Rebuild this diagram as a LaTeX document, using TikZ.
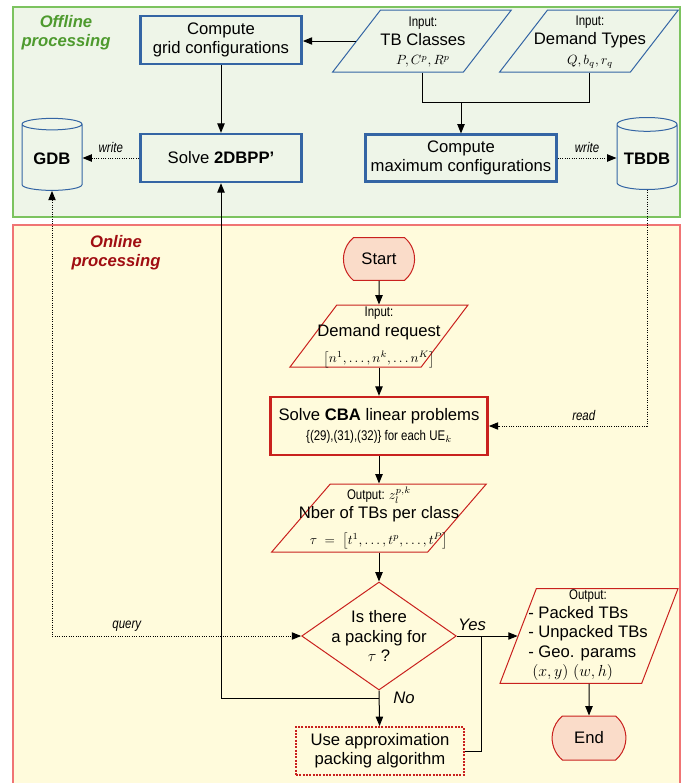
\documentclass[tikz,border=0pt]{standalone}
\usepackage{amsmath}
\usepackage{fontspec}
\setmainfont{Liberation Sans}
\newfontfamily\narrow[FakeStretch=0.82]{Liberation Sans}
\usetikzlibrary{arrows.meta, shapes.geometric, shapes.misc, positioning}

\definecolor{offbg}{HTML}{EEF5E8}
\definecolor{offline}{HTML}{7CC35F}
\definecolor{offtext}{HTML}{4E9A2E}
\definecolor{onbg}{HTML}{FFFBDC}
\definecolor{online}{HTML}{F07474}
\definecolor{ontext}{HTML}{A00D12}
\definecolor{boxblue}{HTML}{3465A4}
\definecolor{boxred}{HTML}{C9211E}
\definecolor{termfill}{HTML}{FADCC9}

\newcommand{\mainsize}{\fontsize{12.5}{14.5}\selectfont}
\newcommand{\smallnarrow}{\narrow\fontsize{10.5}{12.5}\selectfont}
\newcommand{\mathsize}{\fontsize{10}{13}\selectfont}

\tikzset{
  procblue/.style = {draw=boxblue, line width=1.8pt, fill=offbg, align=center},
  procred/.style = {draw=boxred, line width=1.8pt, fill=onbg, align=center},
  inblue/.style = {trapezium, trapezium left angle=60, trapezium right angle=120,
    trapezium stretches=true, draw=boxblue, fill=offbg, inner sep=1pt},
  inred/.style = {trapezium, trapezium stretches=true, draw=boxred, fill=onbg,
    inner sep=1pt},
  intext/.style = {align=center, inner sep=0pt},
  dbase/.style = {cylinder, shape border rotate=90, aspect=0.25, draw=boxblue,
    fill=offbg, minimum width=45pt, minimum height=54pt, font=\mainsize\bfseries},
  term/.style = {rounded rectangle, rounded rectangle arc length=100, draw=boxred,
    fill=termfill},
  decision/.style = {diamond, draw=boxred, fill=onbg, inner sep=1pt},
  area/.style = {font=\mainsize\bfseries\itshape, align=center},
  flow/.style = {->},
  dots/.style = {densely dotted}
}

\begin{document}
\begin{tikzpicture}[x=0.75pt, y=-0.75pt, >={Triangle[length=7pt, width=5.5pt]},
  line width=0.75pt, font=\mainsize]
\useasboundingbox (0,0) rectangle (685,783);
\clip (0,0) rectangle (685,783);

% the two areas
\draw[draw=offline, fill=offbg, line width=1pt] (13,7) rectangle (680,217);
\draw[draw=online, fill=onbg, line width=1pt] (13,225) rectangle (680,800);
\node[area, text=offtext] (offlab) at (66,33) {Offline\\processing};
\node[area, text=ontext] (onlab) at (116,253) {Online\\processing};

% offline processing
\node[procblue, minimum width=121pt, minimum height=36pt] (grid) at (221,40)
  {Compute\\grid configurations};
\node[procblue, minimum width=121pt, minimum height=36pt] (solve) at (221,158)
  {Solve \textbf{2DBPP'}};
\node[procblue, minimum width=143pt, minimum height=35pt] (maxc) at (461,158)
  {Compute\\maximum configurations};
\node[inblue, minimum width=134pt, minimum height=46.5pt] (tb) at (422,41) {};
\node[intext] (tbtxt) at (423,42)
  {{\smallnarrow Input:}\\TB Classes\\{\mathsize$P,C^p,R^p$}};
\node[inblue, minimum width=134pt, minimum height=46.5pt] (dt) at (589,41) {};
\node[intext] (dttxt) at (590,42)
  {{\smallnarrow Input:}\\Demand Types\\{\mathsize$Q,b_q,r_q$}};
\node[dbase] (gdb) at (52,159) {GDB};
\node[dbase] (tbdb) at (647,159) {TBDB};
\coordinate (j) at (461,102);

\draw[flow] (tb.west) -- (tb.west -| grid.east);
\draw[flow] (grid) -- (solve);
\draw (tb.south -| tb.center) |- (j);
\draw (dt.south -| dt.center) |- (j);
\draw[flow] (j) -- (maxc);
\draw[flow, dots] (solve.west) -- node[above] {\smallnarrow\itshape write} (solve.west -| gdb.east);
\draw[flow, dots] (maxc.east) -- node[above] {\smallnarrow\itshape write} (maxc.east -| tbdb.west);

% online processing
\node[term, minimum width=60pt, minimum height=32pt] (start) at (379,259) {Start};
\node[inred, trapezium left angle=61, trapezium right angle=119,
  minimum width=133.5pt, minimum height=46.5pt] (dr) at (379,336) {};
\node[intext] (drtxt) at (379,337)
  {{\smallnarrow Input:}\\[1pt]Demand request\\[5pt]{\mathsize$\bigl[n^1,\dots,n^k,\dots n^K\bigr]$}};
\node[procred, minimum width=163pt, minimum height=43.5pt] (cba) at (379,426)
  {Solve \textbf{CBA} linear problems\\{\smallnarrow\{(29),(31),(32)\} for each UE$_k$}};
\node[inred, trapezium left angle=59, trapezium right angle=121,
  minimum width=161pt, minimum height=51pt] (oz) at (379,518) {};
\node[intext] (oztxt) at (379,518)
  {{\smallnarrow Output: }{\mathsize$z_l^{p,k}$}\\Nber of TBs per class\\[5pt]
   {\mathsize$\tau\ =\ \bigl[t^1,\dots,t^p,\dots,t^P\bigr]$}};
\node[decision, minimum width=116pt, minimum height=81pt] (dia) at (379,636) {};
\node[intext] (diatxt) at (379,636) {Is there\\a packing for\\$\tau$ ?};
\node[inred, trapezium left angle=71, trapezium right angle=109,
  minimum width=133.5pt, minimum height=71pt] (outr) at (589,636) {};
\node[intext] (outrtxt) at (588,634)
  {\begin{tabular}{@{}l@{}}\multicolumn{1}{@{}c@{}}{\smallnarrow Output:}\\
   - Packed TBs\\- Unpacked TBs\\- Geo. params\\
   \hspace*{3pt}$(x,y)\ (w,h)$\end{tabular}};
\node[term, minimum width=62pt, minimum height=33pt] (end) at (589,738) {End};
\node[draw=boxred, densely dotted, line width=1.5pt, fill=onbg, align=center,
  minimum width=126pt, minimum height=36pt] (approx) at (380,751)
  {Use approximation\\packing algorithm};
\coordinate (nj) at (379,698);
\coordinate (yj) at (481,636);

\draw[flow] (start) -- (dr);
\draw[flow] (dr) -- (cba);
\draw[flow] (cba) -- (oz);
\draw[flow] (oz) -- (dia);
\draw[flow] (dia.east) -- node[above, pos=.25] {\itshape Yes} (outr.west);
\draw[flow] (outr.south -| outr.center) -- (end);
\draw[flow] (dia.south) -- node[right, pos=.2, xshift=7pt] {\itshape No} (approx);
\draw (approx.east) -| (yj);
\draw[flow] (nj) -| (solve.south);
\draw[dots, <->] (gdb.south) |- node[above, pos=.65] {\smallnarrow\itshape query} (dia.west);
\draw[flow, dots] (tbdb.south) |- node[above, pos=.7] {\smallnarrow\itshape read} (cba.east);
\end{tikzpicture}
\end{document}
